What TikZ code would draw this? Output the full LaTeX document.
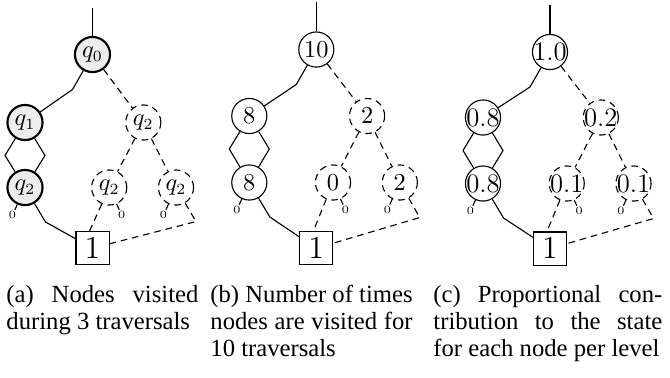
\documentclass[tikz,border=0pt]{standalone}
\usepackage[no-math]{fontspec}
\setmainfont{Liberation Serif}
\begin{document}
\begin{tikzpicture}[x=0.45pt,y=-0.45pt,
  every node/.style={inner sep=0pt},
  st/.style={circle, draw, line width=0.5pt, minimum size=15.8pt, font=\fontsize{10.5}{12}\selectfont},
  vis/.style={st, fill=black!7, line width=0.95pt},
  lodash/.style={dash pattern=on 3pt off 2.2pt},
  unv/.style={st, lodash},
  wide/.style={font=\fontsize{12}{13}\selectfont},
  hi/.style={line width=0.5pt},
  lo/.style={line width=0.5pt, lodash},
  termbox/.style={rectangle, draw, line width=0.5pt, minimum size=14.9pt, font=\fontsize{14}{15}\selectfont},
  zer/.style={font=\fontsize{5.5}{6}\selectfont, inner sep=0.6pt},
  captext/.style={anchor=base west, font=\fontsize{11.1}{12.1}\selectfont, inner sep=0pt}
]
\useasboundingbox (0,0) rectangle (670,377);

% ---------- panel (a)
\coordinate (atop) at (92.5,8);
\node[vis] (ar) at (92.5,54.5) {$q_0$};
\node[vis] (al1) at (25,122.5) {$q_1$};
\node[unv] (at1) at (143.3,122.5) {$q_2$};
\node[vis] (al2) at (25,187.5) {$q_2$};
\node[unv] (am2) at (109.2,187.5) {$q_2$};
\node[unv] (ar2) at (176,187.5) {$q_2$};
\node[termbox] (abx) at (92.5,248.2) {$1$};
\node[zer] (az1) at (12.5,215) {$0$};
\node[zer] (az2) at (121.7,215) {$0$};
\node[zer] (az3) at (163.5,215) {$0$};
\draw[hi] (atop) -- (ar);
\draw[hi] (ar) -- ++(-20,35) -- (al1);
\draw[lo] (ar) -- (at1);
\draw[hi] (al1) -- ++(-20,33) -- (al2);
\draw[hi] (al1) -- ++(20,33) -- (al2);
\draw[hi] (al2) -- (az1);
\draw[hi] (al2) -- ++(20.5,34.5) -- (abx);
\draw[lo] (at1) -- (am2);
\draw[lo] (at1) -- (ar2);
\draw[lo] (am2) -- (az2);
\draw[lo] (am2) -- ([xshift=-1.35pt]abx.north);
\draw[lo] (ar2) -- (az3);
\draw[lo] (ar2) -- ++(20,34) -- (abx);

% ---------- panel (b)
\coordinate (btop) at (316.3,2);
\node[st] (br) at (316.3,49.5) {$10$};
\node[st] (bl1) at (249.3,116) {$8$};
\node[unv] (bt1) at (367.1,116) {$2$};
\node[st] (bl2) at (249.3,182.5) {$8$};
\node[unv] (bm2) at (333,182.5) {$0$};
\node[unv] (br2) at (399.8,182.5) {$2$};
\node[termbox] (bbx) at (316.3,248.2) {$1$};
\node[zer] (bz1) at (236.8,210) {$0$};
\node[zer] (bz2) at (345.5,210) {$0$};
\node[zer] (bz3) at (387.3,210) {$0$};
\draw[hi] (btop) -- (br);
\draw[hi] (br) -- ++(-20,35) -- (bl1);
\draw[lo] (br) -- (bt1);
\draw[hi] (bl1) -- ++(-20,33) -- (bl2);
\draw[hi] (bl1) -- ++(20,33) -- (bl2);
\draw[hi] (bl2) -- (bz1);
\draw[hi] (bl2) -- ++(20.5,34.5) -- (bbx);
\draw[lo] (bt1) -- (bm2);
\draw[lo] (bt1) -- (br2);
\draw[lo] (bm2) -- (bz2);
\draw[lo] (bm2) -- ([xshift=-1.35pt]bbx.north);
\draw[lo] (br2) -- (bz3);
\draw[lo] (br2) -- ++(20,35) -- (bbx);

% ---------- panel (c)
\coordinate (ctop) at (550,5);
\node[st, wide] (cr) at (550,52) {\makebox[0pt]{$1.0$}};
\node[st, wide] (cl1) at (483,117.5) {\makebox[0pt]{$0.8$}};
\node[unv, wide] (ct1) at (600.8,117.5) {\makebox[0pt]{$0.2$}};
\node[st, wide] (cl2) at (483,183.5) {\makebox[0pt]{$0.8$}};
\node[unv, wide] (cm2) at (566.7,183.5) {\makebox[0pt]{$0.1$}};
\node[unv, wide] (cr2) at (633.5,183.5) {\makebox[0pt]{$0.1$}};
\node[termbox] (cbx) at (550,248.5) {$1$};
\node[zer] (cz1) at (470.5,211) {$0$};
\node[zer] (cz2) at (579.2,211) {$0$};
\node[zer] (cz3) at (621,211) {$0$};
\draw[hi] (ctop) -- (cr);
\draw[hi] (cr) -- ++(-20,35) -- (cl1);
\draw[lo] (cr) -- (ct1);
\draw[hi] (cl1) -- ++(-20,33) -- (cl2);
\draw[hi] (cl1) -- ++(20,33) -- (cl2);
\draw[hi] (cl2) -- (cz1);
\draw[hi] (cl2) -- ++(20.5,34.5) -- (cbx);
\draw[lo] (ct1) -- (cm2);
\draw[lo] (ct1) -- (cr2);
\draw[lo] (cm2) -- (cz2);
\draw[lo] (cm2) -- ([xshift=-1.35pt]cbx.north);
\draw[lo] (cr2) -- (cz3);
\draw[lo] (cr2) -- ++(20,35) -- (cbx);

% ---------- captions
\node[captext] (ca1) at (6,302) {\makebox[86.4pt][s]{(a) Nodes visited}};
\node[captext] (ca2) at (6,329) {during 3 traversals};
\node[captext] (cb1) at (210,302) {\makebox[91pt][s]{(b) Number of times}};
\node[captext] (cb2) at (210,329) {\makebox[91pt][s]{nodes are visited for}};
\node[captext] (cb3) at (210,356) {10 traversals};
\node[captext] (cc1) at (433,302) {\makebox[103pt][s]{(c) Proportional con-}};
\node[captext] (cc2) at (433,329) {\makebox[103pt][s]{tribution to the state}};
\node[captext] (cc3) at (433,356) {for each node per level};
\end{tikzpicture}
\end{document}
